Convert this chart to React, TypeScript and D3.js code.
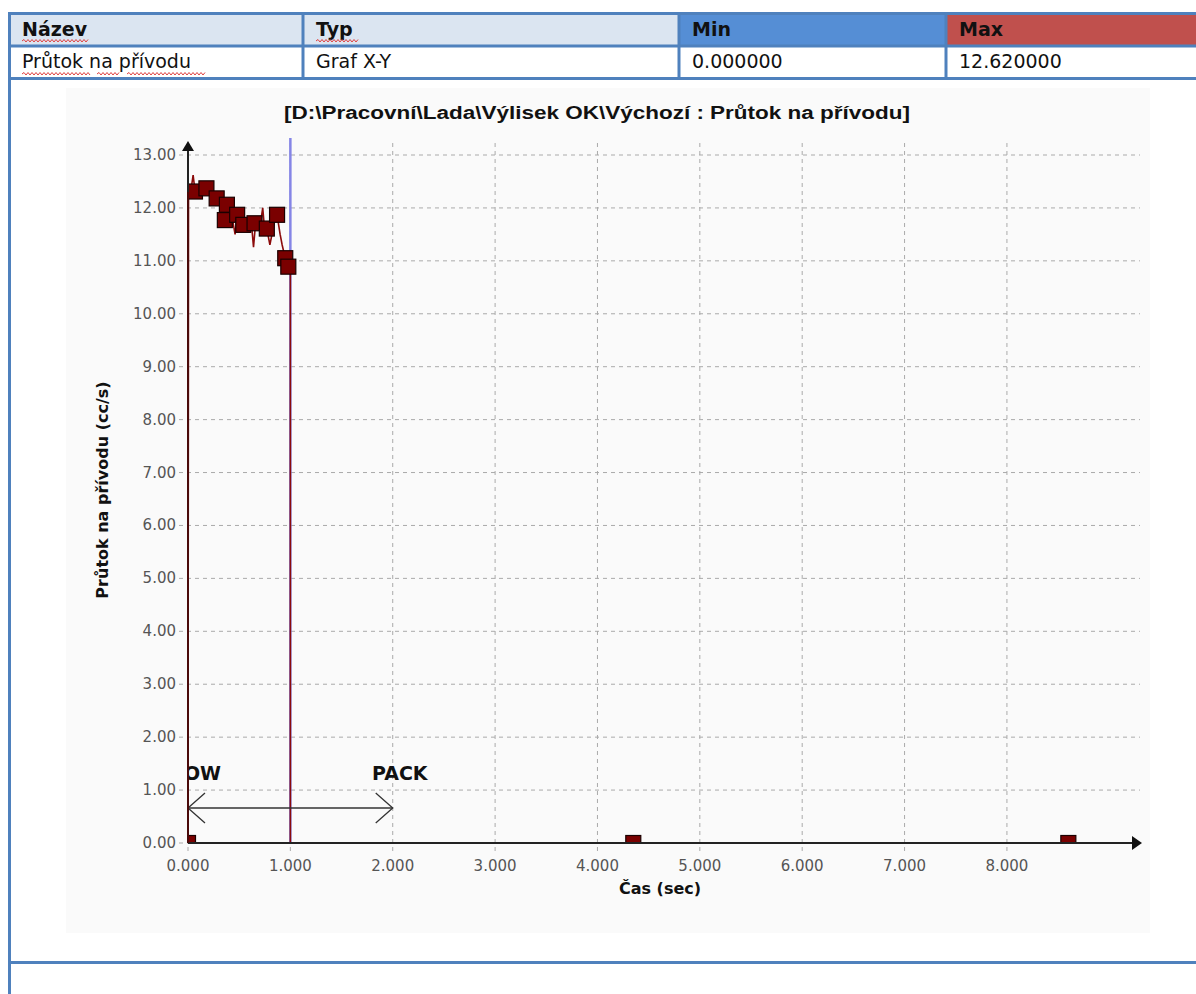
import React from "react";
import * as d3 from "d3";

// ---- table content ----
const tableHeaders = ["Název", "Typ", "Min", "Max"];
const tableValues = ["Průtok na přívodu", "Graf X-Y", "0.000000", "12.620000"];

// ---- chart content ----
const chartTitle = "[D:\\Pracovní\\Lada\\Výlisek OK\\Výchozí : Průtok na přívodu]";
const xAxisTitle = "Čas (sec)";
const yAxisTitle = "Průtok na přívodu (cc/s)";
const xTicks = [0, 1, 2, 3, 4, 5, 6, 7, 8];
const yTicks = [0, 1, 2, 3, 4, 5, 6, 7, 8, 9, 10, 11, 12, 13];

// flow curve (time in s, flow in cc/s)
const lineTime = [0, 0.005, 0.03, 0.05, 0.07, 0.12, 0.18, 0.22, 0.28, 0.33, 0.36, 0.38, 0.42, 0.46, 0.48, 0.51, 0.54, 0.58, 0.62, 0.64, 0.66, 0.7, 0.73, 0.75, 0.77, 0.8, 0.84, 0.87, 0.9, 0.92, 0.95, 0.98, 1.0, 1.0, 4.35, 8.6];
const lineFlow = [0, 12.3, 12.35, 12.62, 12.3, 12.35, 12.37, 12.3, 12.18, 12.1, 11.77, 12.06, 11.95, 11.5, 11.87, 11.6, 11.68, 11.75, 11.7, 11.26, 11.71, 11.6, 12.0, 11.55, 11.61, 11.3, 11.7, 11.87, 11.5, 11.3, 11.05, 10.89, 10.9, 0, 0, 0];

// markers
const markerTime = [0, 0.068, 0.18, 0.28, 0.38, 0.36, 0.48, 0.54, 0.65, 0.77, 0.87, 0.95, 0.98, 4.35, 8.6];
const markerFlow = [0, 12.31, 12.37, 12.18, 12.06, 11.77, 11.87, 11.68, 11.71, 11.61, 11.87, 11.05, 10.89, 0, 0];

// phase annotations
const switchTime = 1.0;
const phaseArrowStart = 0;
const phaseArrowEnd = 2.0;
const phaseLabels = ["FLOW", "PACK"];

const BLUE = "#4f81bd";

function squiggle(x1: number, x2: number, yy: number) {
  let d = `M${x1},${yy}`;
  let up = true;
  for (let xx = x1 + 2; xx <= x2; xx += 2) {
    d += ` L${xx},${up ? yy - 1.5 : yy + 1}`;
    up = !up;
  }
  return d;
}

export default function App() {
  const x = d3.scaleLinear().domain([0, 9.3]).range([188, 1140]);
  const y = d3.scaleLinear().domain([0, 13]).range([843, 155]);
  const yTop = 143;

  const pts = lineTime.map((t, i) => [t, lineFlow[i]] as [number, number]);
  const lineGen = d3
    .line<[number, number]>()
    .x((d) => x(d[0]))
    .y((d) => y(d[1]));

  const colX = [9, 303, 679, 946, 1196];
  const headFill = ["#dbe5f1", "#dbe5f1", "#558ed5", "#c0504d"];
  const tableFont = "'DejaVu Sans', Verdana, sans-serif";
  const sq = 15;

  return (
    <svg
      width={1196}
      height={994}
      style={{ position: "absolute", left: 0, top: 0, background: "#fff" }}
    >
      <defs>
        <clipPath id="plotClip">
          <rect x={x(0)} y={120} width={x(9.3) - x(0) + 10} height={y(0) - 120} />
        </clipPath>
      </defs>

      {/* table header cells */}
      {tableHeaders.map((h, i) => (
        <rect key={"hb" + i} x={colX[i]} y={14} width={colX[i + 1] - colX[i]} height={31} fill={headFill[i]} />
      ))}
      {tableHeaders.map((h, i) => (
        <text key={"ht" + i} x={colX[i] + 13} y={36} fontFamily={tableFont} fontWeight="bold" fontSize={19} fill="#111">
          {h}
        </text>
      ))}
      {tableValues.map((v, i) => (
        <text key={"vt" + i} x={colX[i] + 13} y={68} fontFamily={tableFont} fontSize={19} fill="#111">
          {v}
        </text>
      ))}
      {/* spell-check squiggles */}
      <g stroke="#e04040" strokeWidth={1} fill="none">
        <path d={squiggle(22, 88, 41)} />
        <path d={squiggle(316, 358, 41)} />
        <path d={squiggle(22, 90, 74)} />
        <path d={squiggle(97, 119, 74)} />
        <path d={squiggle(127, 205, 74)} />
      </g>
      {/* table borders */}
      <g stroke={BLUE} strokeWidth={3} fill="none">
        <line x1={8} x2={1196} y1={13.5} y2={13.5} />
        <line x1={8} x2={1196} y1={46} y2={46} />
        <line x1={8} x2={1196} y1={78.5} y2={78.5} />
        <line x1={8} x2={1196} y1={962.5} y2={962.5} />
        <line x1={9.5} x2={9.5} y1={12} y2={994} />
        {colX.slice(1, 4).map((cx, i) => (
          <line key={"cl" + i} x1={cx} x2={cx} y1={12} y2={80} />
        ))}
      </g>

      {/* chart panel */}
      <rect x={66} y={88} width={1084} height={845} fill="#fafafa" />
      <text
        x={597}
        y={119}
        textAnchor="middle"
        fontFamily="'Liberation Sans Narrow', 'Arial Narrow', 'Liberation Sans', sans-serif"
        fontWeight="bold"
        fontSize={18}
        fill="#111"
        textLength={626}
        lengthAdjust="spacingAndGlyphs"
      >
        {chartTitle}
      </text>

      {/* grid */}
      <g stroke="#aaaaaa" strokeWidth={1} strokeDasharray="4 4">
        {yTicks.map((t) => (
          <line key={"gy" + t} x1={179} x2={x(9.3)} y1={y(t)} y2={y(t)} />
        ))}
        {xTicks.map((t) => (
          <line key={"gx" + t} x1={x(t)} x2={x(t)} y1={y(0) + 8} y2={yTop} />
        ))}
      </g>

      {/* tick labels */}
      <g fontFamily="'DejaVu Sans', Verdana, sans-serif" fontSize={15} fill="#555">
        {yTicks.map((t) => (
          <text key={"ly" + t} x={176} y={y(t) + 5} textAnchor="end">
            {d3.format(".2f")(t)}
          </text>
        ))}
        {xTicks.map((t) => (
          <text key={"lx" + t} x={x(t)} y={871} textAnchor="middle">
            {d3.format(".3f")(t)}
          </text>
        ))}
      </g>

      {/* axis titles */}
      <text x={660} y={894} textAnchor="middle" fontFamily="'DejaVu Sans', Verdana, sans-serif" fontWeight="bold" fontSize={16} fill="#111">
        {xAxisTitle}
      </text>
      <text
        transform={`translate(108,490) rotate(-90)`}
        textAnchor="middle"
        fontFamily="'DejaVu Sans', Verdana, sans-serif"
        fontWeight="bold"
        fontSize={16}
        fill="#111"
      >
        {yAxisTitle}
      </text>

      {/* switchover marker line */}
      <line x1={x(switchTime)} x2={x(switchTime)} y1={138} y2={y(0)} stroke="#8585e6" strokeWidth={2.5} />

      {/* data */}
      <g clipPath="url(#plotClip)">
        <path d={lineGen(pts) || ""} fill="none" stroke="#8b0a0a" strokeWidth={1.6} />
        {markerTime.map((t, i) => (
          <rect
            key={"m" + i}
            x={x(t) - sq / 2}
            y={y(markerFlow[i]) - sq / 2}
            width={sq}
            height={sq}
            fill="#7a0000"
            stroke="#1a0000"
            strokeWidth={1.2}
          />
        ))}
        {/* phase annotation */}
        <text x={221} y={780} textAnchor="end" fontFamily="'DejaVu Sans', Verdana, sans-serif" fontWeight="bold" fontSize={19} fill="#111">
          {phaseLabels[0]}
        </text>
      </g>
      <text x={372} y={780} fontFamily="'DejaVu Sans', Verdana, sans-serif" fontWeight="bold" fontSize={19} fill="#111">
        {phaseLabels[1]}
      </text>
      <g stroke="#333" strokeWidth={1.3} fill="none">
        <line x1={x(phaseArrowStart)} x2={x(phaseArrowEnd)} y1={808} y2={808} />
        <path d={`M${x(phaseArrowStart) + 17},${793} L${x(phaseArrowStart)},808 L${x(phaseArrowStart) + 17},${823}`} />
        <path d={`M${x(phaseArrowEnd) - 17},${793} L${x(phaseArrowEnd)},808 L${x(phaseArrowEnd) - 17},${823}`} />
      </g>

      {/* axes */}
      <g stroke="#222" strokeWidth={2}>
        <line x1={x(0)} x2={x(0)} y1={y(0)} y2={yTop + 4} />
        <line x1={x(0)} x2={x(9.3) - 4} y1={y(0)} y2={y(0)} />
      </g>
      <path d={`M${x(0) - 6},${yTop + 8} L${x(0)},${yTop - 2} L${x(0) + 6},${yTop + 8} Z`} fill="#111" />
      <path d={`M${x(9.3) - 8},${y(0) - 7} L${x(9.3) + 2},${y(0)} L${x(9.3) - 8},${y(0) + 7} Z`} fill="#111" />
      {/* vertical rise of flow line over the axis */}
      <line x1={x(0)} x2={x(0)} y1={y(0)} y2={y(12.3)} stroke="#4a0a0a" strokeWidth={2} />
    </svg>
  );
}
